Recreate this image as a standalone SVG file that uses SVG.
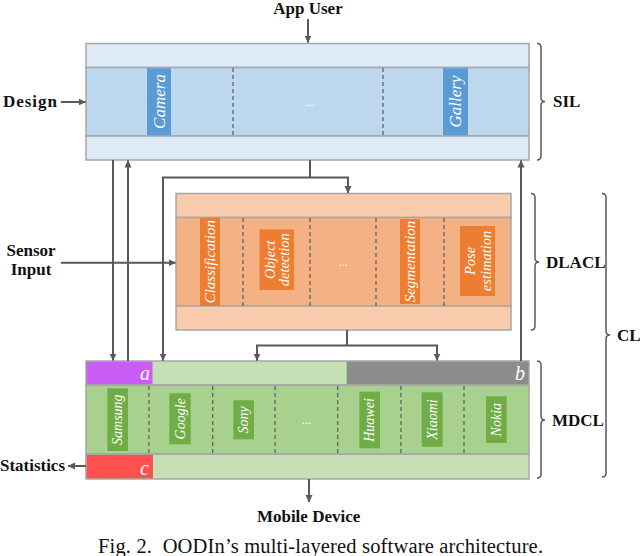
<svg xmlns="http://www.w3.org/2000/svg" width="640" height="556" viewBox="0 0 640 556">
<defs>
<marker id="ah" markerWidth="8" markerHeight="8" refX="7" refY="4" orient="auto" markerUnits="userSpaceOnUse">
<path d="M0,0.5 L7.5,4 L0,7.5 Z" fill="#595959"/>
</marker>
<style>
.lbl{font-family:"Liberation Serif",serif;font-weight:bold;font-size:17px;fill:#111}
.tag{font-family:"Liberation Serif",serif;font-style:italic;fill:#fff;text-anchor:middle;dominant-baseline:central}
.dots{font-family:"Liberation Serif",serif;fill:#fff;font-size:13px;text-anchor:middle}
.bd{stroke:#a6a6a6;stroke-width:1.5}
.ol{fill:none}
.dash{stroke:#595959;stroke-width:1.2;stroke-dasharray:4 3}
.con{fill:none;stroke:#595959;stroke-width:2}
.brace{fill:none;stroke:#595959;stroke-width:1.5}
.let{font-family:"Liberation Serif",serif;font-style:italic;fill:#fff;font-size:20px;text-anchor:end}
.so{fill:#deebf7}.sm{fill:#bdd7ee}.st{fill:#5b9bd5}
.do{fill:#f8cbad}.dm{fill:#f4b183}.dt{fill:#ed7d31}
.mo{fill:#c5e0b4}.mm{fill:#a9d18e}.mt{fill:#70ad47}
</style>
</defs>
<rect width="640" height="556" fill="#fff"/>

<g id="sil">
<rect x="86" y="43.5" width="443" height="24" class="so bd"/>
<rect x="86" y="67.5" width="443" height="68.5" class="sm bd"/>
<rect x="86" y="136" width="443" height="24" class="so bd"/>
<line x1="233" y1="68" x2="233" y2="136" class="dash"/>
<line x1="383" y1="68" x2="383" y2="136" class="dash"/>
<rect x="147" y="68.2" width="24" height="67" class="st"/>
<text class="tag" font-size="17" transform="translate(159,101.5) rotate(-90)">Camera</text>
<text class="dots" x="310" y="106">...</text>
<rect x="443" y="68.2" width="25" height="67" class="st"/>
<text class="tag" font-size="17" transform="translate(455.5,101.5) rotate(-90)">Gallery</text>
</g>

<g id="dlacl">
<rect x="176" y="193.5" width="335" height="24" class="do bd"/>
<rect x="176" y="217.5" width="335" height="88.5" class="dm bd"/>
<rect x="176" y="306" width="335" height="24" class="do bd"/>
<line x1="243" y1="218" x2="243" y2="306" class="dash"/>
<line x1="310" y1="218" x2="310" y2="306" class="dash"/>
<line x1="376" y1="218" x2="376" y2="306" class="dash"/>
<line x1="444" y1="218" x2="444" y2="306" class="dash"/>
<rect x="200" y="218" width="20" height="88" class="dt"/>
<text class="tag" font-size="15" transform="translate(210,261.7) rotate(-90)">Classification</text>
<rect x="259.5" y="229.5" width="34.5" height="60.5" class="dt"/>
<text class="tag" font-size="14.5" transform="translate(276.7,259.7) rotate(-90)"><tspan x="0" y="-7">Object</tspan><tspan x="0" y="7">detection</tspan></text>
<text class="dots" x="343" y="266">...</text>
<rect x="400" y="219" width="20" height="85" class="dt"/>
<text class="tag" font-size="15" transform="translate(410,261.5) rotate(-90)">Segmentation</text>
<rect x="460" y="226" width="35" height="70" class="dt"/>
<text class="tag" font-size="14.5" transform="translate(477.5,261) rotate(-90)"><tspan x="0" y="-8">Pose</tspan><tspan x="0" y="8">estimation</tspan></text>
</g>

<g id="mdcl">
<rect x="86" y="361" width="443" height="24" class="mo"/>
<rect x="86" y="361" width="66.5" height="24" fill="#cc5cf8"/>
<rect x="346.7" y="361" width="182.3" height="24" fill="#8c8c8c"/>
<rect x="86" y="385" width="443" height="69" class="mm"/>
<rect x="86" y="454" width="443" height="25" class="mo"/>
<rect x="86" y="454" width="67" height="25" fill="#ff5050"/>
<rect x="86" y="361" width="443" height="24" class="ol bd"/>
<rect x="86" y="385" width="443" height="69" class="ol bd"/>
<rect x="86" y="454" width="443" height="25" class="ol bd"/>
<text class="let" x="150" y="380">a</text>
<text class="let" x="525" y="380">b</text>
<text class="let" x="149" y="475">c</text>
<line x1="149" y1="386" x2="149" y2="454" class="dash"/>
<line x1="212.7" y1="386" x2="212.7" y2="454" class="dash"/>
<line x1="275" y1="386" x2="275" y2="454" class="dash"/>
<line x1="337.7" y1="386" x2="337.7" y2="454" class="dash"/>
<line x1="401" y1="386" x2="401" y2="454" class="dash"/>
<line x1="464" y1="386" x2="464" y2="454" class="dash"/>
<rect x="107.3" y="388.3" width="20.7" height="62.7" class="mt"/>
<text class="tag" font-size="14" transform="translate(117.7,419.7) rotate(-90)">Samsung</text>
<rect x="169.3" y="393.3" width="21.4" height="51" class="mt"/>
<text class="tag" font-size="14" transform="translate(180,418.8) rotate(-90)">Google</text>
<rect x="233.3" y="400.3" width="20.7" height="39" class="mt"/>
<text class="tag" font-size="14" transform="translate(243.7,419.8) rotate(-90)">Sony</text>
<text class="dots" x="306.7" y="424">...</text>
<rect x="359.3" y="391.7" width="20.7" height="56.6" class="mt"/>
<text class="tag" font-size="14" transform="translate(369.7,420) rotate(-90)">Huawei</text>
<rect x="421.7" y="392.3" width="21" height="54.4" class="mt"/>
<text class="tag" font-size="14" transform="translate(432.2,419.5) rotate(-90)">Xiaomi</text>
<rect x="486" y="396.3" width="20.7" height="46.7" class="mt"/>
<text class="tag" font-size="14" transform="translate(496.3,419.7) rotate(-90)">Nokia</text>
</g>

<g id="connectors">
<line x1="308" y1="19" x2="308" y2="42.5" class="con" marker-end="url(#ah)"/>
<line x1="61" y1="102" x2="85.5" y2="102" class="con" marker-end="url(#ah)"/>
<line x1="113" y1="160" x2="113" y2="360.5" class="con" marker-end="url(#ah)"/>
<line x1="128" y1="361" x2="128" y2="160.5" class="con" marker-end="url(#ah)"/>
<polyline points="310,160 310,177.5" class="con"/>
<polyline points="163,360.5 163,177.5 348,177.5 348,193" class="con" marker-end="url(#ah)"/>
<path d="M163,340 L163,360.5" class="con" marker-end="url(#ah)"/>
<line x1="61" y1="262.7" x2="175.5" y2="262.7" class="con" marker-end="url(#ah)"/>
<polyline points="347,330 347,345.5" class="con"/>
<polyline points="257,360.5 257,345.5 437,345.5 437,360.5" class="con" marker-end="url(#ah)"/>
<path d="M257,350 L257,360.5" class="con" marker-end="url(#ah)"/>
<line x1="521" y1="361" x2="521" y2="160.5" class="con" marker-end="url(#ah)"/>
<line x1="86" y1="466" x2="68" y2="466" class="con" marker-end="url(#ah)"/>
<line x1="309" y1="479" x2="309" y2="502" class="con" marker-end="url(#ah)"/>
</g>

<g id="braces">
<path class="brace" d="M537,43.5 Q541,43.5 541,47.5 L541,97.5 Q541,101.5 545,101.5 Q541,101.5 541,105.5 L541,156 Q541,160 537,160"/>
<path class="brace" d="M531,193.5 Q535,193.5 535,197.5 L535,258 Q535,262 539,262 Q535,262 535,266 L535,326 Q535,330 531,330"/>
<path class="brace" d="M537,361 Q541,361 541,365 L541,416 Q541,420 545,420 Q541,420 541,424 L541,474 Q541,478 537,478"/>
<path class="brace" d="M602,193.5 Q606,193.5 606,197.5 L606,331 Q606,335 610,335 Q606,335 606,339 L606,473 Q606,477 602,477"/>
</g>

<g id="label-appuser"><text class="lbl" x="308" y="14" text-anchor="middle">App User</text></g>
<g id="label-design"><text class="lbl" x="3" y="107" textLength="54">Design</text></g>
<g id="label-sensor"><text class="lbl" x="31" y="256" text-anchor="middle">Sensor</text><text class="lbl" x="31" y="275" text-anchor="middle">Input</text></g>
<g id="label-statistics"><text class="lbl" x="0" y="471" textLength="65">Statistics</text></g>
<g id="label-mobile"><text class="lbl" x="308.6" y="522" text-anchor="middle">Mobile Device</text></g>
<g id="label-sil"><text class="lbl" x="553" y="107">SIL</text></g>
<g id="label-dlacl"><text class="lbl" x="546" y="268">DLACL</text></g>
<g id="label-mdcl"><text class="lbl" x="552" y="426">MDCL</text></g>
<g id="label-cl"><text class="lbl" x="617" y="341">CL</text></g>
<g id="caption"><text x="98" y="553" xml:space="preserve" font-family="'Liberation Serif',serif" font-size="20.5" fill="#111" textLength="445">Fig. 2.  OODIn’s multi-layered software architecture.</text></g>
</svg>
